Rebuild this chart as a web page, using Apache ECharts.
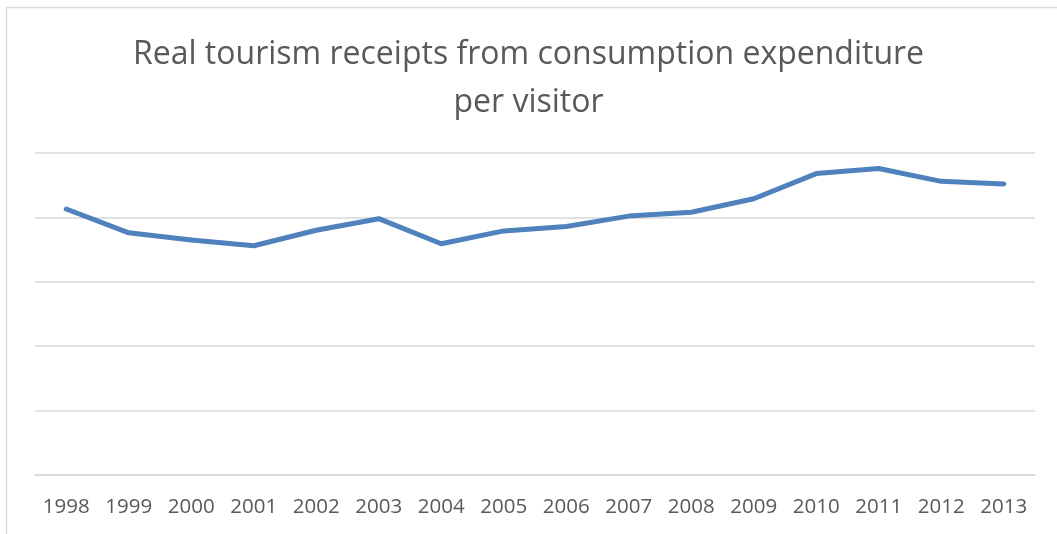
<!DOCTYPE html>
<html>
<head>
<meta charset="utf-8">
<script src="https://cdn.jsdelivr.net/npm/echarts@6/dist/echarts.min.js"></script>
<style>html,body{margin:0;padding:0;background:#fff}#c{width:1057px;height:534px}</style>
</head>
<body>
<div id="c"></div>
<script>
const titleText = 'Real tourism receipts from consumption expenditure\nper visitor';
const years = ['1998','1999','2000','2001','2002','2003','2004','2005','2006','2007','2008','2009','2010','2011','2012','2013'];
const receipts = [4.13, 3.76, 3.65, 3.56, 3.80, 3.98, 3.59, 3.79, 3.86, 4.02, 4.08, 4.29, 4.68, 4.76, 4.56, 4.52];
const yMin = 0, yMax = 5, yStep = 1;

const chart = echarts.init(document.getElementById('c'));
chart.setOption({
  animation: false,
  graphic: [{
    type: 'rect', shape: {x: 6.5, y: 7.5, width: 1100, height: 600},
    style: {fill: 'none', stroke: '#d9d9d9', lineWidth: 1.5}, silent: true
  }],
  title: {
    text: titleText, left: 'center', top: 26,
    textStyle: {fontFamily: 'Open Sans', fontSize: 32, fontWeight: 'normal', color: '#595959', lineHeight: 48}
  },
  grid: {left: 35, right: 22, top: 153, bottom: 59},
  xAxis: {
    type: 'category', data: years, boundaryGap: true,
    axisLine: {lineStyle: {color: '#d9d9d9', width: 1.5}},
    axisTick: {show: false},
    axisLabel: {fontFamily: 'Open Sans', fontSize: 20.5, color: '#595959', margin: 22}
  },
  yAxis: {
    type: 'value', min: yMin, max: yMax, interval: yStep,
    axisLabel: {show: false}, axisLine: {show: false}, axisTick: {show: false},
    splitLine: {lineStyle: {color: '#d9d9d9', width: 1.5}}
  },
  series: [{
    type: 'line', data: receipts, symbol: 'none',
    lineStyle: {color: '#4f81bd', width: 5, cap: 'round', join: 'round'}
  }]
});
</script>
</body>
</html>
